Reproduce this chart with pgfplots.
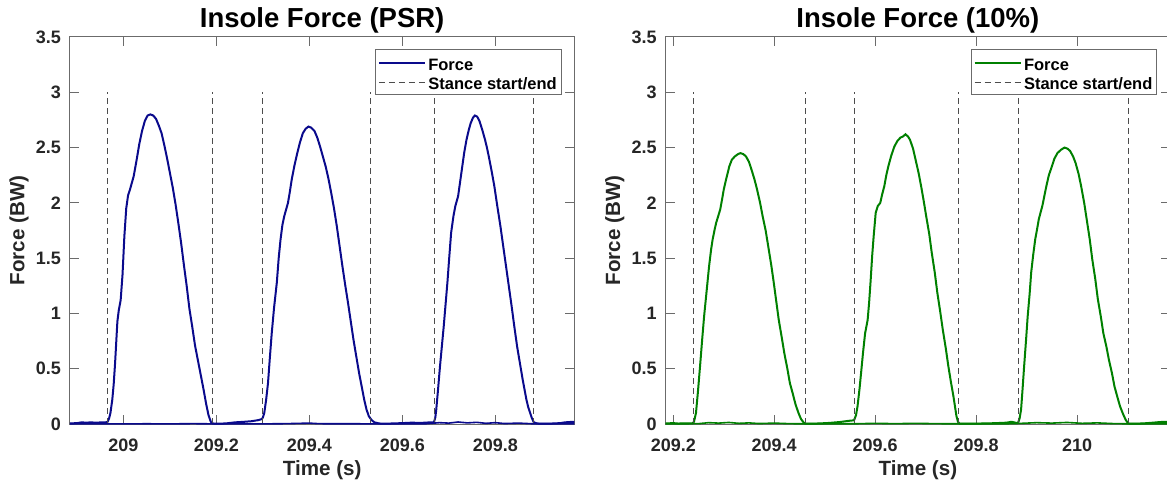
\documentclass[border=0pt]{standalone}
\usepackage{pgfplots}
\pgfplotsset{compat=1.18}
\usepackage{fontspec}
\setmainfont{Liberation Sans}
\definecolor{axgray}{rgb}{0.42,0.42,0.42}
\definecolor{txt}{rgb}{0.15,0.15,0.15}
\definecolor{psrblue}{RGB}{10,10,140}
\definecolor{tengreen}{RGB}{0,128,0}
\definecolor{dashgray}{rgb}{0.3,0.3,0.3}
\newcommand{\rowa}{\rule[-2.05pt]{0pt}{11.5pt}}
\newcommand{\rowb}{\rule[-1.4pt]{0pt}{10.2pt}}
\pgfplotsset{
  mystyle/.style={
    scale only axis, width=252.15pt, height=193.5pt,
    ymin=0, ymax=3.5, ytick={0,0.5,1,1.5,2,2.5,3,3.5},
    axis line style={axgray, line width=0.5pt},
    tick style={axgray, line width=0.5pt},
    major tick length=4.5pt,
    tick align=inside,
    minor tick num=0,
    tick label style={font=\fontsize{9}{10}\selectfont\bfseries, text=txt},
    /pgf/number format/assume math mode=true,
    /pgf/number format/fixed,
    /pgf/number format/precision=1,
    yticklabel style={xshift=-1pt},
    xticklabel style={yshift=-4pt},
    every axis x label/.style={at={(axis description cs:0.5,-0.1189)}, anchor=center, font=\fontsize{10.3}{12}\selectfont\bfseries, text=txt},
    every axis y label/.style={at={(axis description cs:-0.1011,0.5)}, anchor=center, rotate=90, font=\fontsize{10.3}{12}\selectfont\bfseries, text=txt},
    every axis title/.style={at={(axis description cs:0.5,1.02506)}, anchor=base, font=\fontsize{13.75}{16}\selectfont\bfseries, text=black},
    legend style={at={(1,1)}, anchor=north east, xshift=-6.3pt, yshift=-6.15pt,
      draw=axgray, fill=white, line width=0.5pt, text=black,
      font=\fontsize{8.25}{9.5}\selectfont\bfseries,
      inner xsep=1pt, inner ysep=1pt, row sep=-0.85pt,
      nodes={inner xsep=1.25pt, inner ysep=0pt}},
    legend cell align=left,
    legend image code/.code={\draw[#1] (0pt,0pt) -- (23pt,0pt);},
    unbounded coords=jump,
    clip=false,
  },
  stance/.style={dashgray, line width=0.5pt, dash pattern=on 3pt off 2pt},
}
\begin{document}
\begin{tikzpicture}
\begin{axis}[mystyle, at={(35pt,31.5pt)}, anchor=south west,
  xmin=208.885, xmax=209.970, xtick={209,209.2,209.4,209.6,209.8},
  title={Insole Force (PSR)}, xlabel={Time (s)}, ylabel={Force (BW)}]
\addplot[psrblue, line width=1pt] coordinates {
(208.885,0.005) (208.90,0.008) (208.91,0.015) (208.92,0.012) (208.93,0.015) (208.94,0.012) (208.95,0.014) (208.962,0.015)
(208.966,0.02) (208.969,0.05) (208.972,0.10) (208.976,0.22) (208.979,0.36) (208.982,0.55) (208.985,0.78) (208.987,0.93)
(208.990,1.03) (208.994,1.12) (208.998,1.35) (209.002,1.70) (209.006,1.95) (209.010,2.07) (209.014,2.12) (209.018,2.18)
(209.022,2.24) (209.028,2.38) (209.034,2.53) (209.040,2.65) (209.046,2.74) (209.052,2.79) (209.058,2.80) (209.064,2.79)
(209.070,2.76) (209.076,2.70) (209.082,2.63) (209.088,2.52) (209.094,2.40) (209.100,2.27) (209.106,2.14) (209.112,1.99)
(209.118,1.82) (209.124,1.64) (209.130,1.44) (209.136,1.25) (209.142,1.04) (209.148,0.88) (209.154,0.71) (209.160,0.58)
(209.166,0.45) (209.172,0.32) (209.178,0.18) (209.183,0.08) (209.188,0.02) (209.192,0.005) (209.20,0.003) (209.22,0.005)
(209.24,0.015) (209.26,0.02) (209.275,0.025) (209.29,0.035) (209.298,0.045)
(209.300,0.06) (209.303,0.10) (209.307,0.22) (209.311,0.37) (209.315,0.60) (209.319,0.82) (209.324,1.05) (209.330,1.28)
(209.334,1.50) (209.338,1.67) (209.342,1.80) (209.346,1.88) (209.350,1.94) (209.354,2.00) (209.358,2.10) (209.362,2.21)
(209.368,2.34) (209.374,2.45) (209.380,2.55) (209.386,2.63) (209.392,2.67) (209.398,2.69) (209.404,2.68) (209.411,2.65)
(209.417,2.59) (209.423,2.51) (209.429,2.42) (209.435,2.33) (209.441,2.22) (209.447,2.09) (209.453,1.95) (209.459,1.79)
(209.465,1.61) (209.471,1.43) (209.477,1.26) (209.483,1.10) (209.489,0.93) (209.495,0.76) (209.501,0.61) (209.507,0.46)
(209.513,0.33) (209.518,0.22) (209.523,0.13) (209.528,0.07) (209.534,0.035) (209.540,0.015) (209.55,0.005) (209.56,0.003)
(209.58,0.005) (209.60,0.008) (209.62,0.012) (209.64,0.01) (209.66,0.015) (209.668,0.015)
(209.671,0.06) (209.673,0.13) (209.677,0.32) (209.681,0.52) (209.685,0.70) (209.689,0.88) (209.693,1.08) (209.697,1.28)
(209.701,1.51) (209.705,1.73) (209.710,1.88) (209.714,1.97) (209.720,2.06) (209.724,2.18) (209.728,2.30) (209.733,2.45)
(209.738,2.57) (209.743,2.66) (209.747,2.72) (209.752,2.77) (209.756,2.79) (209.761,2.78) (209.766,2.74) (209.772,2.66)
(209.778,2.57) (209.782,2.50) (209.786,2.42) (209.792,2.29) (209.798,2.15) (209.804,1.98) (209.811,1.79) (209.817,1.61)
(209.823,1.43) (209.829,1.25) (209.835,1.07) (209.841,0.88) (209.847,0.70) (209.853,0.55) (209.859,0.40) (209.863,0.31)
(209.867,0.22) (209.871,0.15) (209.875,0.10) (209.879,0.05) (209.883,0.015) (209.89,0.005) (209.90,0.003) (209.92,0.004)
(209.94,0.008) (209.95,0.015) (209.96,0.018) (209.970,0.02)
};
\addlegendentry{\rowa Force}
\addplot[stance] coordinates {
(208.966,0) (208.966,3) (208.966,nan)
(209.191,0) (209.191,3) (209.191,nan)
(209.300,0) (209.300,3) (209.300,nan)
(209.532,0) (209.532,3) (209.532,nan)
(209.669,0) (209.669,3) (209.669,nan)
(209.883,0) (209.883,3)
};
\addlegendentry{\rowb Stance start/end}
\addplot[psrblue, line width=0.8pt, forget plot] coordinates {
(208.885,0.002) (208.95,0.002) (209.0,0.001) (209.05,0.002) (209.10,0.001) (209.15,0.003) (209.20,0.001) (209.25,0.002)
(209.30,0.001) (209.35,0.003) (209.40,0.008) (209.42,0.003) (209.45,0.002) (209.50,0.002) (209.55,0.001) (209.60,0.002)
(209.65,0.002) (209.68,0.012) (209.70,0.008) (209.72,0.018) (209.74,0.01) (209.76,0.015) (209.78,0.006) (209.80,0.012)
(209.82,0.004) (209.85,0.008) (209.88,0.002) (209.92,0.002) (209.970,0.002)
};
\end{axis}
\begin{axis}[mystyle, at={(332.85pt,31.5pt)}, anchor=south west,
  xmin=209.185, xmax=210.184, xtick={209.2,209.4,209.6,209.8,210},
  title={Insole Force (10\%)}, xlabel={Time (s)}, ylabel={Force (BW)}]
\addplot[tengreen, line width=1pt] coordinates {
(209.185,0.005) (209.20,0.008) (209.21,0.004) (209.22,0.006) (209.23,0.005) (209.238,0.005)
(209.241,0.02) (209.245,0.10) (209.249,0.30) (209.253,0.52) (209.257,0.75) (209.261,0.97) (209.266,1.20) (209.271,1.43)
(209.275,1.58) (209.278,1.67) (209.282,1.76) (209.285,1.82) (209.289,1.88) (209.293,1.94) (209.297,2.04) (209.300,2.12)
(209.305,2.22) (209.311,2.33) (209.316,2.39) (209.322,2.42) (209.328,2.44) (209.333,2.45) (209.339,2.44) (209.344,2.42)
(209.350,2.37) (209.355,2.30) (209.361,2.21) (209.366,2.12) (209.372,2.00) (209.377,1.88) (209.383,1.75) (209.388,1.61)
(209.394,1.44) (209.399,1.28) (209.404,1.11) (209.409,0.94) (209.415,0.78) (209.420,0.64) (209.426,0.50) (209.431,0.37)
(209.437,0.27) (209.442,0.18) (209.448,0.10) (209.453,0.045) (209.458,0.015) (209.461,0.004) (209.47,0.003) (209.49,0.005)
(209.51,0.01) (209.53,0.018) (209.55,0.03) (209.558,0.033)
(209.562,0.08) (209.565,0.16) (209.569,0.32) (209.572,0.46) (209.576,0.65) (209.580,0.82) (209.585,0.94) (209.588,1.10)
(209.591,1.30) (209.594,1.52) (209.597,1.70) (209.601,1.91) (209.605,1.97) (209.610,2.00) (209.614,2.08) (209.618,2.15)
(209.622,2.25) (209.626,2.33) (209.632,2.43) (209.638,2.51) (209.644,2.56) (209.650,2.59) (209.655,2.60) (209.660,2.62)
(209.665,2.60) (209.669,2.57) (209.675,2.49) (209.680,2.39) (209.686,2.27) (209.691,2.15) (209.696,2.02) (209.701,1.88)
(209.707,1.72) (209.712,1.55) (209.718,1.37) (209.723,1.19) (209.729,1.01) (209.734,0.85) (209.740,0.68) (209.745,0.52)
(209.750,0.38) (209.755,0.25) (209.758,0.16) (209.761,0.07) (209.764,0.02) (209.767,0.004) (209.78,0.003) (209.80,0.004)
(209.82,0.005) (209.84,0.008) (209.86,0.012) (209.87,0.02) (209.88,0.01) (209.883,0.01)
(209.886,0.05) (209.889,0.13) (209.892,0.32) (209.895,0.52) (209.899,0.77) (209.902,0.97) (209.906,1.18) (209.909,1.37)
(209.913,1.53) (209.917,1.67) (209.921,1.77) (209.924,1.85) (209.928,1.92) (209.931,1.97) (209.935,2.06) (209.939,2.15)
(209.944,2.25) (209.950,2.33) (209.955,2.40) (209.961,2.45) (209.968,2.48) (209.975,2.50) (209.981,2.49) (209.986,2.47)
(209.992,2.42) (209.997,2.36) (210.003,2.26) (210.008,2.15) (210.014,2.00) (210.019,1.85) (210.025,1.67) (210.030,1.49)
(210.036,1.31) (210.041,1.13) (210.047,0.97) (210.052,0.82) (210.058,0.70) (210.063,0.58) (210.069,0.46) (210.074,0.34)
(210.080,0.24) (210.085,0.16) (210.091,0.09) (210.096,0.04) (210.101,0.005) (210.11,0.003) (210.13,0.005) (210.15,0.012)
(210.165,0.018) (210.184,0.02)
};
\addlegendentry{\rowa Force}
\addplot[stance] coordinates {
(209.240,0) (209.240,3) (209.240,nan)
(209.461,0) (209.461,3) (209.461,nan)
(209.559,0) (209.559,3) (209.559,nan)
(209.765,0) (209.765,3) (209.765,nan)
(209.884,0) (209.884,3) (209.884,nan)
(210.101,0) (210.101,3)
};
\addlegendentry{\rowb Stance start/end}
\addplot[tengreen, line width=0.8pt, forget plot] coordinates {
(209.185,0.002) (209.25,0.003) (209.27,0.012) (209.29,0.008) (209.31,0.014) (209.33,0.006) (209.35,0.01) (209.37,0.004)
(209.40,0.008) (209.43,0.003) (209.46,0.002) (209.50,0.002) (209.56,0.002) (209.60,0.006) (209.64,0.003) (209.68,0.006)
(209.72,0.003) (209.76,0.002) (209.80,0.002) (209.86,0.002) (209.89,0.006) (209.92,0.012) (209.95,0.008) (209.98,0.014)
(210.01,0.006) (210.04,0.01) (210.07,0.004) (210.10,0.002) (210.184,0.002)
};
\end{axis}
\pgfresetboundingbox
\path[use as bounding box] (0,0) rectangle (583.5pt,243.5pt);
\end{tikzpicture}
\end{document}
